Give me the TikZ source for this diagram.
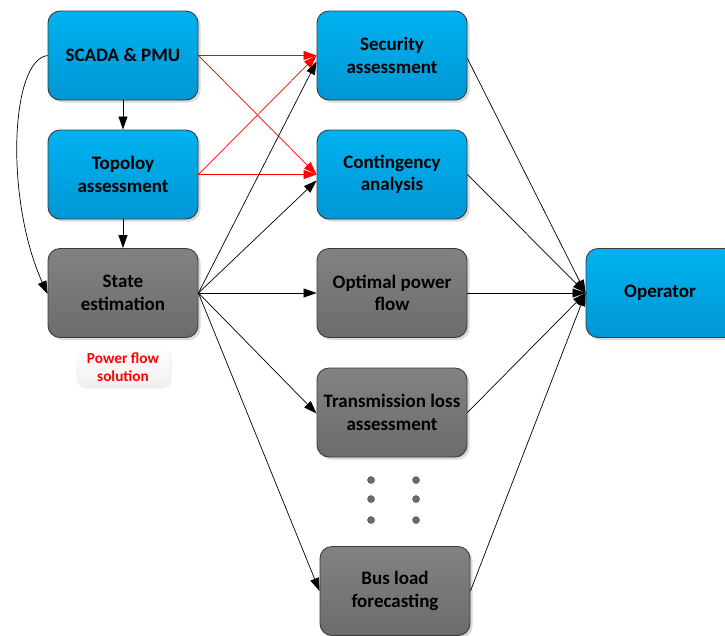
\documentclass[tikz,border=0pt]{standalone}
\usepackage{fontspec}
\setmainfont{Carlito}
\usetikzlibrary{arrows.meta,shadows}
\definecolor{bluetop}{RGB}{0,178,240}
\definecolor{bluebot}{RGB}{0,150,212}
\definecolor{graytop}{RGB}{130,130,130}
\definecolor{graybot}{RGB}{108,108,108}
\definecolor{boxline}{RGB}{60,60,60}
\tikzset{
  boxbase/.style={draw=boxline, line width=0.9pt, rounded corners=12pt,
    minimum width=150pt, minimum height=89pt, inner sep=0pt, align=center,
    font=\fontsize{19}{22.5}\selectfont\bfseries, text=black,
    drop shadow={shadow xshift=2.5pt, shadow yshift=-2.5pt, fill=black!18, opacity=0.8}},
  bluebox/.style={boxbase, top color=bluetop, bottom color=bluebot},
  graybox/.style={boxbase, top color=graytop, bottom color=graybot},
  blk/.style={draw=black, line width=0.7pt, -{Triangle[length=13pt,width=9pt]}},
  redarr/.style={draw=red, line width=0.7pt, -{Triangle[length=13pt,width=9pt]}},
  dotmark/.style={circle, fill=graybot, draw=boxline, line width=0.3pt, minimum size=7pt, inner sep=0pt,
    drop shadow={shadow xshift=1pt, shadow yshift=-1pt, fill=black!15}},
  notebox/.style={rounded corners=9pt, top color=white, bottom color=black!6, minimum width=94pt,
    minimum height=39pt, inner sep=0pt, align=center, text=red,
    font=\fontsize{15.3}{17.8}\selectfont\bfseries,
    drop shadow={shadow xshift=1.5pt, shadow yshift=-1.5pt, fill=black!10}}
}
\begin{document}
\begin{tikzpicture}[x=1pt,y=-1pt]
\useasboundingbox[fill=white] (0,0) rectangle (725,635);
% left column
\node[bluebox] (scada) at (123,55.5) {SCADA \& PMU};
\node[bluebox] (topo) at (123,174.5) {Topoloy\\assessment};
\node[graybox] (state) at (123,293) {State\\estimation};
\node[notebox] (pfs) at (123,367.5) {Power flow\\solution};
% middle column
\node[bluebox] (sec) at (392,55.5) {Security\\assessment};
\node[bluebox] (cont) at (392,174.5) {Contingency\\analysis};
\node[graybox] (opf) at (392,293) {Optimal power\\flow};
\node[graybox] (tla) at (392,412.5) {Transmission loss\\assessment};
\node[graybox] (bus) at (395,591) {Bus load\\forecasting};
% operator
\node[bluebox, text width=150pt] (op) at (661,293) {\hspace*{-2pt}Operator};
% dots
\foreach \yy [count=\i] in {480,499,520}{
  \node[dotmark] (dl\i) at (371,\yy) {};
  \node[dotmark] (dr\i) at (416,\yy) {};
}
% left column arrows
\draw[blk] (scada.south) -- (topo.north);
\draw[blk] (topo.south) -- (state.north);
\draw[blk] (scada.west) .. controls (10,60) and (5,200) .. ([yshift=-1pt]state.west);
% red arrows
\draw[redarr] (scada.east) -- (sec.west);
\draw[redarr] (scada.east) -- (cont.west);
\draw[redarr] (topo.east) -- (sec.west);
\draw[redarr] (topo.east) -- (cont.west);
% state estimation outgoing
\draw[blk] (state.east) -- ([yshift=-6pt]sec.west);
\draw[blk] (state.east) -- ([yshift=-6pt]cont.west);
\draw[blk] (state.east) -- (opf.west);
\draw[blk] (state.east) -- ([yshift=-1pt]tla.west);
\draw[blk] (state.east) -- (bus.west);
% to operator
\draw[blk] ([yshift=-3pt]sec.east) -- (op.west);
\draw[blk] (cont.east) -- (op.west);
\draw[blk] (opf.east) -- (op.west);
\draw[blk] (tla.east) -- (op.west);
\draw[blk] (bus.east) -- (op.west);
\end{tikzpicture}
\end{document}
